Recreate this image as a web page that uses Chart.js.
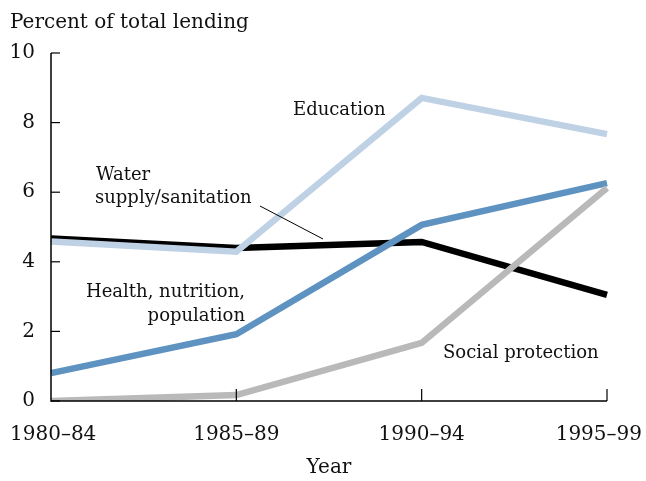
<!DOCTYPE html>
<html>
<head>
<meta charset="utf-8">
<script src="https://cdn.jsdelivr.net/npm/chart.js@4/dist/chart.umd.min.js"></script>
<style>
  html, body { margin: 0; padding: 0; background: #fff; }
  #wrap { width: 646px; height: 481px; }
</style>
</head>
<body>
<div id="wrap"><canvas id="lendingChart" width="646" height="481"></canvas></div>
<script>
// periods on the x axis
const periods = ['1980–84', '1985–89', '1990–94', '1995–99'];
const yTicks = [0, 2, 4, 6, 8, 10];

// percent of total lending, by sector
const education = [4.58, 4.29, 8.71, 7.67];
const waterSupply = [4.67, 4.4, 4.57, 3.05];
const health = [0.8, 1.92, 5.06, 6.26];
const socialProtection = [0, 0.17, 1.67, 6.12];

const FONT = 'DejaVu Serif';

// axes, inward ticks, x labels and text notes
const decorPlugin = {
  id: 'decor',
  afterDraw(chart) {
    const ctx = chart.ctx;
    const area = chart.chartArea;
    const x = chart.scales.x;
    const y = chart.scales.y;
    ctx.save();

    ctx.strokeStyle = '#000';
    ctx.lineWidth = 1.5;
    ctx.beginPath();
    ctx.moveTo(area.left, area.top);
    ctx.lineTo(area.left, area.bottom);
    ctx.lineTo(area.right, area.bottom);
    ctx.stroke();

    ctx.lineWidth = 1.2;
    yTicks.forEach(v => {
      const py = y.getPixelForValue(v);
      ctx.beginPath();
      ctx.moveTo(area.left, py);
      ctx.lineTo(area.left + 9, py);
      ctx.stroke();
    });
    periods.forEach((p, i) => {
      if (i === 0) return;
      const px = x.getPixelForValue(i);
      ctx.beginPath();
      ctx.moveTo(px, area.bottom);
      ctx.lineTo(px, area.bottom - 12);
      ctx.stroke();
    });

    ctx.fillStyle = '#111';
    ctx.font = '20px "' + FONT + '"';
    ctx.textBaseline = 'alphabetic';
    periods.forEach((p, i) => {
      const px = x.getPixelForValue(i);
      const w = ctx.measureText(p).width;
      let left = px - w / 2;
      if (left + w > chart.width - 4) left = chart.width - 4 - w;
      if (left < 10) left = 10;
      ctx.textAlign = 'left';
      ctx.fillText(p, left, area.bottom + 39);
    });

    ctx.textAlign = 'center';
    ctx.fillText('Year', (area.left + area.right) / 2, 473);

    ctx.textAlign = 'left';
    ctx.fillText('Percent of total lending', 10, 28);

    ctx.font = '18px "' + FONT + '"';
    ctx.fillText('Education', 293, 115);
    ctx.fillText('Water', 96, 180);
    ctx.fillText('supply/sanitation', 95, 203);
    ctx.fillText('Social protection', 443, 358);
    ctx.textAlign = 'right';
    ctx.fillText('Health, nutrition,', 245, 297);
    ctx.fillText('population', 245, 321);

    ctx.lineWidth = 1;
    ctx.beginPath();
    ctx.moveTo(260, 206);
    ctx.lineTo(323, 239);
    ctx.stroke();

    ctx.restore();
  }
};

const line = (label, data, color, order) => ({
  label,
  data,
  borderColor: color,
  borderWidth: 6.5,
  pointRadius: 0,
  tension: 0,
  fill: false,
  order
});

new Chart(document.getElementById('lendingChart'), {
  type: 'line',
  data: {
    labels: periods,
    datasets: [
      line('Social protection', socialProtection, '#b9b9b9', 1),
      line('Health, nutrition, population', health, '#5e92c0', 2),
      line('Education', education, '#bfd1e5', 3),
      line('Water supply/sanitation', waterSupply, '#000000', 4)
    ]
  },
  options: {
    responsive: false,
    animation: false,
    layout: { padding: { top: 53, right: 39, left: 0, bottom: 0 } },
    plugins: { legend: { display: false }, tooltip: { enabled: false } },
    scales: {
      x: {
        type: 'category',
        offset: false,
        grid: { display: false, drawTicks: false },
        border: { display: false },
        ticks: { display: false },
        afterFit: s => { s.height = 80; s.paddingLeft = 0; s.paddingRight = 0; }
      },
      y: {
        min: 0,
        max: 10,
        grid: { display: false, drawTicks: false },
        border: { display: false },
        ticks: {
          stepSize: 2,
          padding: 16,
          color: '#111',
          font: { family: FONT, size: 20 }
        },
        afterFit: s => { s.width = 51; s.paddingTop = 0; s.paddingBottom = 0; }
      }
    }
  },
  plugins: [decorPlugin]
});
</script>
</body>
</html>
